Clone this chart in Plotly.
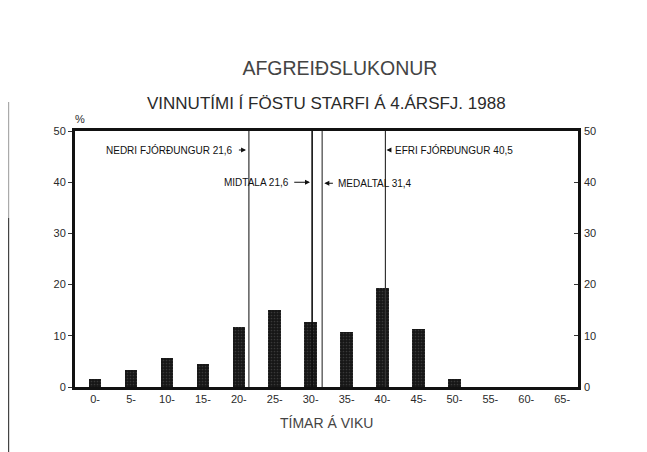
import plotly.graph_objects as go

# ---- data ----
hours = [0, 5, 10, 15, 20, 25, 30, 35, 40, 45, 50, 55, 60, 65]
tick_labels = ["0-", "5-", "10-", "15-", "20-", "25-", "30-", "35-", "40-", "45-", "50-", "55-", "60-", "65-"]
percent = [1.5, 3.4, 5.6, 4.5, 11.7, 15.1, 12.7, 10.8, 19.4, 11.4, 1.5, 0, 0, 0]

stat_positions = [21.4, 30.2, 31.6, 40.4]
stat_texts = ["NEDRI FJÓRÐUNGUR 21,6", "MIDTALA 21,6", "MEDALTAL 31,4", "EFRI FJÓRÐUNGUR 40,5"]
stat_label_y = [46.3, 40.0, 39.8, 46.3]

title = "AFGREIÐSLUKONUR"
subtitle = "VINNUTÍMI Í FÖSTU STARFI Á 4.ÁRSFJ. 1988"
x_title = "TÍMAR Á VIKU"
y_ticks = [0, 10, 20, 30, 40, 50]

FONT = "Liberation Sans, Arial, sans-serif"
TXT = "#2a2a2a"

fig = go.Figure()
fig.add_trace(go.Bar(
    x=hours, y=percent, width=1.75,
    marker=dict(color="#161616", line=dict(width=0),
                pattern=dict(shape=".", fgcolor="#5a5a5a", bgcolor="#161616", size=3, solidity=0.25)),
    showlegend=False, hoverinfo="skip",
))
# invisible trace for right axis
fig.add_trace(go.Scatter(x=[hours[0]], y=[0], yaxis="y2", mode="markers",
                         marker=dict(opacity=0), showlegend=False, hoverinfo="skip"))

line_styles = [dict(color="#333", width=1.2), dict(color="#111", width=1.6),
               dict(color="#666", width=1.5), dict(color="#333", width=1.2)]
for pos, st in zip(stat_positions, line_styles):
    fig.add_shape(type="line", xref="x", yref="paper", x0=pos, x1=pos, y0=0, y1=1, line=st)

# label text offsets (text anchor side) and arrow (tail, head) offsets relative to each line
anchors = ["right", "right", "left", "left"]
text_off = [-1.9, -2.9, 1.9, 1.1]
arrow_tail = [-1.6, -2.7, 1.7, 0.9]
arrow_head = [-0.4, -0.3, 0.3, 0.15]
for pos, txt, yv, anc, to, at, ah in zip(stat_positions, stat_texts, stat_label_y, anchors,
                                         text_off, arrow_tail, arrow_head):
    fig.add_annotation(x=pos + to, y=yv, xref="x", yref="y", text=txt, showarrow=False,
                       xanchor=anc, yanchor="middle",
                       font=dict(family=FONT, size=10, color="#111"))
    fig.add_annotation(x=pos + ah, y=yv, ax=pos + at, ay=yv, xref="x", yref="y",
                       axref="x", ayref="y", text="", showarrow=True,
                       arrowhead=2, arrowsize=0.9, arrowwidth=1.1, arrowcolor="#111")

# subtitle, % sign, x title
fig.add_annotation(x=0.5, y=1.109, xref="paper", yref="paper", text=subtitle, showarrow=False,
                   xanchor="center", yanchor="middle", font=dict(family=FONT, size=17, color=TXT))
fig.add_annotation(x=0.01, y=1.047, xref="paper", yref="paper", text="%", showarrow=False,
                   xanchor="center", yanchor="middle", font=dict(family=FONT, size=11, color=TXT))
fig.add_annotation(x=0.5, y=-0.14, xref="paper", yref="paper", text=x_title, showarrow=False,
                   xanchor="center", yanchor="middle", font=dict(family=FONT, size=14, color="#444"))

# page edge line on the left
fig.add_shape(type="line", xref="paper", yref="paper", x0=-0.132, x1=-0.132, y0=0.66, y1=1.113,
              line=dict(color="#aaa", width=1.2))
fig.add_shape(type="line", xref="paper", yref="paper", x0=-0.132, x1=-0.132, y0=-0.3, y1=0.66,
              line=dict(color="#444", width=1.2))

fig.update_layout(
    width=647, height=452,
    margin=dict(l=67, r=77, t=123, b=73),
    paper_bgcolor="white", plot_bgcolor="white",
    title=dict(text=title, x=0.513, y=1 - 60 / 452, xanchor="center", yanchor="middle",
               font=dict(family=FONT, size=19.5, color="#444")),
    bargap=0,
    xaxis=dict(range=[-2.8, 67.2], tickmode="array", tickvals=hours, ticktext=tick_labels,
               showgrid=False, zeroline=False, showline=True, linecolor="#111", linewidth=3,
               mirror=True, ticks="", tickfont=dict(family=FONT, size=11, color=TXT)),
    yaxis=dict(range=[0, 50], tickvals=y_ticks, showgrid=False, zeroline=False,
               showline=True, linecolor="#111", linewidth=3, mirror=True,
               ticks="outside", ticklen=4, tickcolor="#333",
               tickfont=dict(family=FONT, size=11, color=TXT)),
    yaxis2=dict(range=[0, 50], tickvals=y_ticks, overlaying="y", side="right", showgrid=False,
                zeroline=False, showline=False, ticks="inside", ticklen=4, tickcolor="#333",
                ticklabelstandoff=5,
                tickfont=dict(family=FONT, size=11, color=TXT)),
)

fig.write_html("out.html")
